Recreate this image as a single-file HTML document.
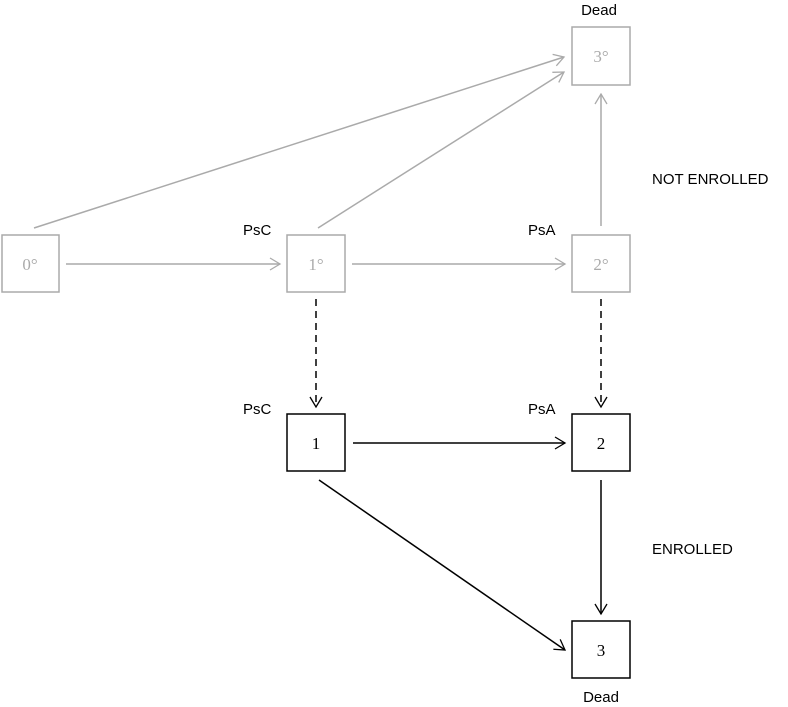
<!DOCTYPE html>
<html><head><meta charset="utf-8"><style>
html,body{margin:0;padding:0;background:#fff;}
svg{display:block;}
.l{font-family:"Liberation Sans",sans-serif;font-size:15px;fill:#000;}
.n{font-family:"Liberation Serif",serif;font-size:17px;}
</style></head><body>
<svg width="788" height="707" viewBox="0 0 788 707" xmlns="http://www.w3.org/2000/svg">
<defs>
<marker id="ag" markerWidth="14" markerHeight="14" refX="12" refY="7" orient="auto" markerUnits="userSpaceOnUse"><path d="M2,1 L12,7 L2,13" fill="none" stroke="#aaa" stroke-width="1.3"/></marker>
<marker id="ab" markerWidth="14" markerHeight="14" refX="12" refY="7" orient="auto" markerUnits="userSpaceOnUse"><path d="M2,1 L12,7 L2,13" fill="none" stroke="#000" stroke-width="1.3"/></marker>
</defs>
<g fill="none" stroke="#aaa" stroke-width="1.5">
<rect x="2" y="235" width="57" height="57"/>
<rect x="287" y="235" width="58" height="57"/>
<rect x="572" y="235" width="58" height="57"/>
<rect x="572" y="27" width="58" height="58"/>
<line x1="66" y1="264" x2="280" y2="264" marker-end="url(#ag)"/>
<line x1="352" y1="264" x2="565" y2="264" marker-end="url(#ag)"/>
<line x1="34" y1="228" x2="564" y2="57" marker-end="url(#ag)"/>
<line x1="318" y1="228" x2="564" y2="72" marker-end="url(#ag)"/>
<line x1="601" y1="226" x2="601" y2="94" marker-end="url(#ag)"/>
</g>
<g fill="none" stroke="#000" stroke-width="1.5">
<rect x="287" y="414" width="58" height="57"/>
<rect x="572" y="414" width="58" height="57"/>
<rect x="572" y="621" width="58" height="57"/>
<line x1="316" y1="299" x2="316" y2="407" stroke-dasharray="7,5" marker-end="url(#ab)"/>
<line x1="601" y1="299" x2="601" y2="407" stroke-dasharray="7,5" marker-end="url(#ab)"/>
<line x1="353" y1="443" x2="565" y2="443" marker-end="url(#ab)"/>
<line x1="601" y1="480" x2="601" y2="614" marker-end="url(#ab)"/>
<line x1="319" y1="480" x2="565" y2="650" marker-end="url(#ab)"/>
</g>
<g class="n" text-anchor="middle">
<text x="30" y="270" fill="#aaa">0°</text>
<text x="316" y="270" fill="#aaa">1°</text>
<text x="601" y="270" fill="#aaa">2°</text>
<text x="601" y="62" fill="#aaa">3°</text>
<text x="316" y="449" fill="#000">1</text>
<text x="601" y="449" fill="#000">2</text>
<text x="601" y="656" fill="#000">3</text>
</g>
<text class="l" x="599" y="15" text-anchor="middle">Dead</text>
<text class="l" x="601" y="702" text-anchor="middle">Dead</text>
<text class="l" x="652" y="184">NOT ENROLLED</text>
<text class="l" x="652" y="554">ENROLLED</text>
<text class="l" x="243" y="235">PsC</text>
<text class="l" x="528" y="235">PsA</text>
<text class="l" x="243" y="414">PsC</text>
<text class="l" x="528" y="414">PsA</text>
</svg>
</body></html>
